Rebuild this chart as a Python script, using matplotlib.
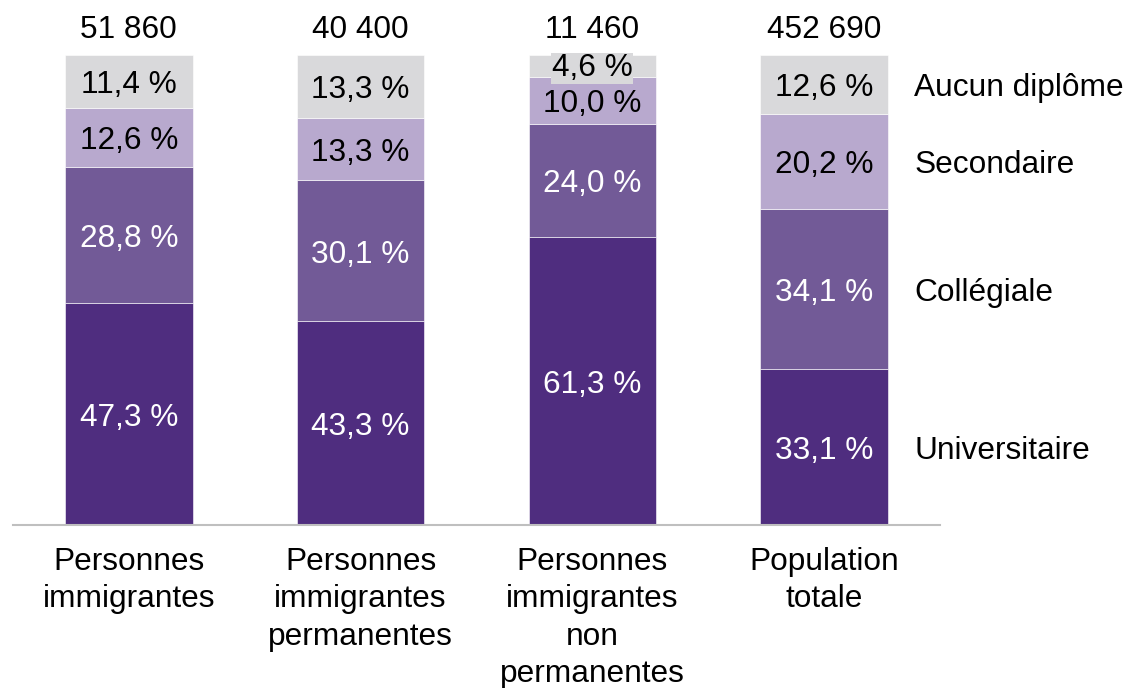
import matplotlib
matplotlib.use('Agg')
import matplotlib.pyplot as plt

plt.rcParams['font.family'] = ['Liberation Sans', 'DejaVu Sans']

categories = ['Personnes\nimmigrantes', 'Personnes\nimmigrantes\npermanentes',
              'Personnes\nimmigrantes\nnon\npermanentes', 'Population\ntotale']
totals = ['51 860', '40 400', '11 460', '452 690']
levels = ['Universitaire', 'Collégiale', 'Secondaire', 'Aucun diplôme']
universitaire = [47.3, 43.3, 61.3, 33.1]
collegiale = [28.8, 30.1, 24.0, 34.1]
secondaire = [12.6, 13.3, 10.0, 20.2]
aucun = [11.4, 13.3, 4.6, 12.6]

series = [universitaire, collegiale, secondaire, aucun]
colors = ['#4f2d7f', '#725a97', '#b8a9ce', '#d9d9db']
text_colors = ['white', 'white', 'black', 'black']

fs = 22.8
dy = -0.8  # small nudge so text sits like in the original
fig = plt.figure(figsize=(11.27, 6.88), dpi=100)
ax = fig.add_axes([13 / 1127, 163 / 688, 927 / 1127, 470 / 688])

x = list(range(len(categories)))
bottom = [0.0] * len(categories)
for vals, col, tcol in zip(series, colors, text_colors):
    ax.bar(x, vals, width=0.55, bottom=bottom, color=col,
           edgecolor='white', linewidth=0.4)
    for i, v in enumerate(vals):
        lab = ('%.1f %%' % v).replace('.', ',')
        if v < 6:
            ax.text(i, bottom[i] + v / 2 + dy / 2, lab, ha='center', va='center',
                    color=tcol, fontsize=fs,
                    bbox=dict(facecolor=col, edgecolor='none', pad=0.5))
        else:
            ax.text(i, bottom[i] + v / 2 + dy, lab, ha='center', va='center',
                    color=tcol, fontsize=fs)
    bottom = [b + v for b, v in zip(bottom, vals)]

# totals above the bars
for i, t in enumerate(totals):
    ax.text(i, 105.4, t, ha='center', va='center', fontsize=fs)

# legend labels next to the last bar
last = len(categories) - 1
b = 0
for vals, name in zip(series, levels):
    ax.text(3.388, b + vals[last] / 2 + dy, name, ha='left', va='center', fontsize=fs)
    b += vals[last]

for i, c in enumerate(categories):
    ax.text(i, -4.75, c, ha='center', va='top', fontsize=fs, linespacing=1.31)

ax.set_xlim(-0.5, 3.5)
ax.set_ylim(0, 100)
for s in ['top', 'right', 'left']:
    ax.spines[s].set_visible(False)
ax.spines['bottom'].set_color('#bfbfbf')
ax.spines['bottom'].set_linewidth(1.5)
ax.set_xticks([])
ax.set_yticks([])

fig.savefig('out.png', dpi=100)
